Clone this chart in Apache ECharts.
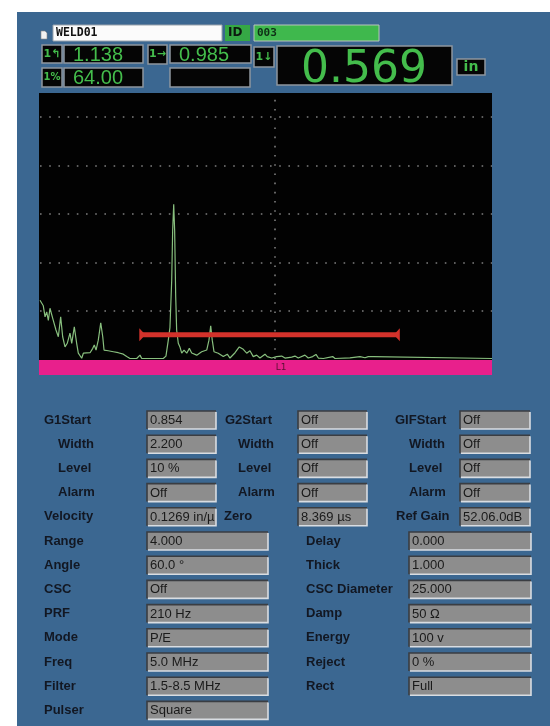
<!DOCTYPE html>
<html>
<head>
<meta charset="utf-8">
<script src="https://cdn.jsdelivr.net/npm/echarts@6/dist/echarts.min.js"></script>
<style>
html,body{margin:0;padding:0;background:#ffffff;}
#main{width:550px;height:726px;}
</style>
</head>
<body>
<div id="main"></div>
<script>
// ---- Peak reading (gate 1) ----
const PEAK_PATH = 1.138;      // sound path, in
const PEAK_AMP = 64.00;       // amplitude, %FSH
const SURFACE_DIST = 0.985;   // surface distance, in
const DEPTH = 0.569;          // depth, in
const FILE_NAME = 'WELD01';
const FILE_ID = '003';
const UNIT = 'in';

// ---- A-scan trace: sound path (in) / amplitude (%) ----
const echoPath = [0.000,0.028,0.043,0.057,0.071,0.085,0.100,0.113,0.136,0.156,0.176,0.193,0.213,0.232,0.255,0.270,0.292,0.312,0.326,0.340,0.355,0.369,0.397,0.426,0.449,0.462,0.477,0.496,0.517,0.534,0.545,0.581,0.624,0.666,0.709,0.738,0.766,0.823,0.851,0.866,0.936,1.049,1.072,1.092,1.106,1.121,1.129,PEAK_PATH,1.146,1.155,1.163,1.177,1.191,1.206,1.226,1.249,1.271,1.291,1.334,1.376,1.419,1.438,1.453,1.466,1.481,1.517,1.560,1.594,1.617,1.660,1.696,1.730,1.759,1.787,1.815,1.844,1.872,1.915,1.934,1.972,2.014,2.057,2.085,2.142,2.170,2.198,2.255,2.283,2.321,2.349,2.369,2.411,2.491,2.511,2.638,2.723,2.766,2.794,2.837,2.851,3.847];
const echoAmp  = [24.3,22.0,17.4,19.5,16.0,21.0,21.6,16.0,12.0,9.2,17.4,9.2,5.0,6.5,10.7,6.5,13.3,6.5,2.4,3.0,0.3,2.4,2.5,2.6,4.4,5.8,3.7,7.8,15.0,9.2,3.7,3.4,3.0,2.6,2.0,1.0,0.2,0.2,1.6,0.2,0.2,0.2,1.2,7.8,13.0,32.6,53.0,PEAK_AMP,53.0,25.7,12.0,6.5,5.0,2.4,3.7,2.4,4.4,2.5,1.6,3.0,3.7,7.8,13.7,7.8,3.0,2.4,1.0,2.0,0.4,2.6,5.0,4.0,2.4,3.4,1.0,1.6,0.4,2.0,1.0,0.4,1.0,1.2,0.4,0.8,1.2,0.4,1.6,0.4,1.0,1.9,0.4,0.2,1.0,0.2,0.5,1.0,0.5,1.0,1.0,0.2,0.2];

// ---- Gate settings ----
const GATE_START = 0.854;
const GATE_WIDTH = 2.200;
const GATE_LEVEL = 10;
const gridLevels = [20, 40, 60, 80, 100];
const centerMark = 2.0;

// ---- Settings table ----
const gateLabels1 = ['G1Start', 'Width', 'Level', 'Alarm'];
const gateValues1 = [GATE_START.toFixed(3), GATE_WIDTH.toFixed(3), GATE_LEVEL + ' %', 'Off'];
const gateLabels2 = ['G2Start', 'Width', 'Level', 'Alarm'];
const gateValues2 = ['Off', 'Off', 'Off', 'Off'];
const gateLabels3 = ['GIFStart', 'Width', 'Level', 'Alarm'];
const gateValues3 = ['Off', 'Off', 'Off', 'Off'];
const velocityRow = ['Velocity', '0.1269 in/µ', 'Zero', '8.369 µs', 'Ref Gain', '52.06.0dB'];
const leftLabels = ['Range', 'Angle', 'CSC', 'PRF', 'Mode', 'Freq', 'Filter', 'Pulser'];
const leftValues = ['4.000', '60.0 °', 'Off', '210 Hz', 'P/E', '5.0 MHz', '1.5-8.5 MHz', 'Square'];
const rightLabels = ['Delay', 'Thick', 'CSC Diameter', 'Damp', 'Energy', 'Reject', 'Rect'];
const rightValues = ['0.000', '1.000', '25.000', '50 Ω', '100 v', '0 %', 'Full'];

// ---- drawing helpers ----
const PANEL = '#3b6791';
const GREEN = '#44bd4c';
const LABEL_FONT = 'bold 13px "Liberation Sans", Arial, sans-serif';
const VALUE_FONT = '13px "Liberation Sans", Arial, sans-serif';
const g = [];

function bevelBox(x, y, w, h) {
  g.push({ type: 'rect', z: 1, shape: { x: x, y: y, width: w, height: h }, style: { fill: '#8d8d8d' } });
  g.push({ type: 'polyline', z: 2, shape: { points: [[x, y + h], [x, y], [x + w, y]] }, style: { stroke: '#3a3d42', lineWidth: 1.6, fill: null } });
  g.push({ type: 'polyline', z: 2, shape: { points: [[x + 1, y + h], [x + w, y + h], [x + w, y + 1]] }, style: { stroke: '#d9dde2', lineWidth: 1.6, fill: null } });
}
function label(x, y, t) {
  g.push({ type: 'text', z: 3, x: x, y: y, style: { text: t, font: LABEL_FONT, fill: '#121722', textVerticalAlign: 'middle' } });
}
function valueBox(x, y, w, t) {
  bevelBox(x, y - 9, w, 18);
  g.push({ type: 'text', z: 3, x: x + 3, y: y + 0.5, style: { text: t, font: VALUE_FONT, fill: '#1a1a1a', textVerticalAlign: 'middle' } });
}
function darkBox(x, y, w, h) {
  g.push({ type: 'rect', z: 1, shape: { x: x, y: y, width: w, height: h }, style: { fill: '#050505', stroke: '#8e969e', lineWidth: 1.5 } });
}
function greenText(x, y, t, font, align) {
  g.push({ type: 'text', z: 3, x: x, y: y, style: { text: t, font: font, fill: GREEN, textAlign: align || 'left', textVerticalAlign: 'middle' } });
}
const ICON_FONT = 'bold 11px "DejaVu Sans", sans-serif';
const READ_FONT = '20px "Liberation Sans", Arial, sans-serif';

// panel and screen backgrounds
g.push({ type: 'rect', z: 0, shape: { x: 17, y: 12, width: 533, height: 714 }, style: { fill: PANEL } });
g.push({ type: 'rect', z: 1, shape: { x: 39, y: 93, width: 453, height: 267 }, style: { fill: '#020202' } });
g.push({ type: 'rect', z: 1, shape: { x: 39, y: 360, width: 453, height: 15 }, style: { fill: '#e8208c' } });
g.push({ type: 'text', z: 3, x: 281, y: 368, style: { text: 'L1', font: '9px "DejaVu Sans", sans-serif', fill: '#5a1032', textAlign: 'center', textVerticalAlign: 'middle' } });

// header: file name / id
g.push({ type: 'polygon', z: 2, shape: { points: [[41, 31], [45, 31], [47, 33], [47, 39], [41, 39]] }, style: { fill: '#f2f2f2', stroke: '#888', lineWidth: 0.6 } });
g.push({ type: 'rect', z: 1, shape: { x: 53, y: 25, width: 169, height: 16 }, style: { fill: '#fbfbfb', stroke: '#9aa3ab', lineWidth: 1 } });
g.push({ type: 'text', z: 3, x: 56, y: 33, style: { text: FILE_NAME, font: 'bold 11.5px "DejaVu Sans Mono", monospace', fill: '#111', textVerticalAlign: 'middle' } });
g.push({ type: 'rect', z: 1, shape: { x: 225, y: 25, width: 25, height: 16 }, style: { fill: '#35a845' } });
g.push({ type: 'text', z: 3, x: 228, y: 33, style: { text: 'ID', font: 'bold 12px "DejaVu Sans", sans-serif', fill: '#0d1a10', textVerticalAlign: 'middle' } });
g.push({ type: 'rect', z: 1, shape: { x: 254, y: 25, width: 125, height: 16 }, style: { fill: '#3fb84d', stroke: '#b9c4bc', lineWidth: 1 } });
g.push({ type: 'text', z: 3, x: 257, y: 33, style: { text: FILE_ID, font: 'bold 11px "DejaVu Sans Mono", monospace', fill: '#0f2e16', textVerticalAlign: 'middle' } });

// header: reading boxes
darkBox(42, 45, 20, 18); greenText(52, 54, '1↰', ICON_FONT, 'center');
darkBox(64, 45, 79, 18); greenText(73, 55, PEAK_PATH.toFixed(3), READ_FONT);
darkBox(148, 45, 19, 19); greenText(157.5, 54.5, '1→', ICON_FONT, 'center');
darkBox(170, 45, 81, 18); greenText(179, 55, SURFACE_DIST.toFixed(3), READ_FONT);
darkBox(42, 68, 20, 19); greenText(52, 77.5, '1%', 'bold 10px "DejaVu Sans", sans-serif', 'center');
darkBox(64, 68, 79, 19); greenText(73, 78, PEAK_AMP.toFixed(2), READ_FONT);
darkBox(170, 68, 80, 19);
darkBox(254, 47, 20, 20); greenText(264, 57, '1↓', ICON_FONT, 'center');
darkBox(277, 46, 175, 39); greenText(364, 70.5, DEPTH.toFixed(3), '44px "DejaVu Sans", sans-serif', 'center');
darkBox(457, 59, 28, 16); greenText(471, 67, UNIT, 'bold 14px "DejaVu Sans", sans-serif', 'center');

// settings: gate rows
const r0 = 420, dr = 24.2;
for (let i = 0; i < 4; i++) {
  const y = r0 + dr * i;
  label(i === 0 ? 44 : 58, y, gateLabels1[i]);
  valueBox(147, y, 69, gateValues1[i]);
  label(i === 0 ? 225 : 238, y, gateLabels2[i]);
  valueBox(298, y, 69, gateValues2[i]);
  label(i === 0 ? 395 : 409, y, gateLabels3[i]);
  valueBox(460, y, 70, gateValues3[i]);
}
{
  const y = r0 + dr * 4;
  label(44, y, velocityRow[0]); valueBox(147, y, 69, velocityRow[1]);
  label(224, y, velocityRow[2]); valueBox(298, y, 69, velocityRow[3]);
  label(396, y, velocityRow[4]); valueBox(460, y, 70, velocityRow[5]);
}
for (let i = 0; i < leftLabels.length; i++) {
  const y = r0 + dr * (5 + i);
  label(44, y, leftLabels[i]);
  valueBox(147, y, 121, leftValues[i]);
  if (i < rightLabels.length) {
    label(306, y, rightLabels[i]);
    valueBox(409, y, 122, rightValues[i]);
  }
}

// ---- chart ----
const trace = echoPath.map((p, i) => [p, echoAmp[i]]);
const dotted = { color: '#7d7d7d', width: 1.6, type: [1.6, 7.6] };

const option = {
  backgroundColor: 'transparent',
  animation: false,
  graphic: { elements: g },
  grid: { left: 40, top: 93, width: 452, height: 266, show: false },
  xAxis: { type: 'value', min: 0, max: 3.847, show: false },
  yAxis: { type: 'value', min: 0, max: 110, show: false },
  series: [
    {
      name: 'grid', type: 'line', z: 5, data: [], silent: true,
      markLine: {
        silent: true, symbol: 'none', label: { show: false },
        lineStyle: dotted,
        data: gridLevels.map(v => ({ yAxis: v })).concat([{ xAxis: centerMark }])
      }
    },
    {
      name: 'A-scan', type: 'line', z: 8, data: trace, showSymbol: false,
      lineStyle: { color: '#88bf7e', width: 1.2 }, itemStyle: { color: '#88bf7e' }
    },
    {
      name: 'Gate 1', type: 'line', z: 9,
      data: [
        { value: [GATE_START, GATE_LEVEL], symbol: 'path://M0,0 L0,12 L6,6 Z', symbolSize: [6, 13], symbolOffset: [2, 0] },
        { value: [GATE_START + GATE_WIDTH, GATE_LEVEL], symbol: 'path://M6,0 L6,12 L0,6 Z', symbolSize: [6, 13], symbolOffset: [-2, 0] }
      ],
      showSymbol: true,
      lineStyle: { color: '#d3322b', width: 5 }, itemStyle: { color: '#d3322b' }
    }
  ]
};
echarts.init(document.getElementById('main'), null, { renderer: 'canvas' }).setOption(option);
</script>
</body>
</html>
